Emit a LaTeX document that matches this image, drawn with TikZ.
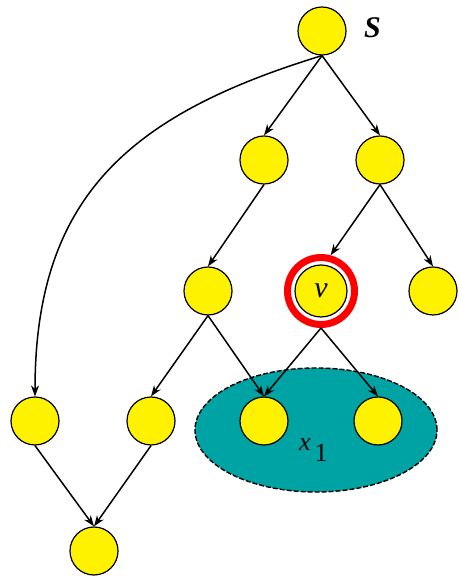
\documentclass[tikz,border=0pt]{standalone}
\usepackage{fontspec}
\setmainfont{Liberation Serif}
\usetikzlibrary{arrows.meta}

\definecolor{setteal}{RGB}{0,163,163}

\begin{document}
\begin{tikzpicture}[
    x=1pt, y=1pt,
    vertex/.style={circle, draw, fill=yellow, line width=1.2pt, minimum size=48pt, inner sep=0pt},
    ring/.style={circle, draw=red, fill=white, line width=7pt, minimum size=67pt, inner sep=0pt},
    region/.style={draw, fill=setteal, line width=1.4pt, dash pattern=on 5pt off 2pt},
    letter/.style={inner sep=0pt, font=\fontsize{30}{30}\selectfont\itshape},
    arrow/.style={-{Stealth[length=11pt, width=8pt]}, line width=1.5pt}
]
    \useasboundingbox (0,0) rectangle (458,577);

    % the set x_1
    \draw[region] (316,147) ellipse [x radius=121pt, y radius=62pt];

    \node[vertex] (s) at (322,546) {};
    \node[letter, font=\fontsize{30}{30}\selectfont\bfseries\itshape, anchor=base west] (slabel) at (364,539) {S};
    \node[vertex] (a) at (264,417) {};
    \node[vertex] (b) at (380,417) {};
    \node[vertex] (c) at (208,286) {};
    \node[ring] (vring) at (321,286) {};
    \node[vertex, minimum size=52pt, font=\fontsize{30}{30}\selectfont\itshape] (v) at (321,286) {v};
    \node[vertex] (d) at (433,286) {};
    \node[vertex] (e) at (35,156) {};
    \node[vertex] (f) at (151,156) {};
    \node[vertex] (g) at (264,156) {};
    \node[vertex] (h) at (378,156) {};
    \node[vertex] (i) at (94,26) {};
    \node[letter, font=\fontsize{26}{26}\selectfont, anchor=base west] (xlabel) at (299,126) {\textit{x}\hspace{4pt}\raisebox{-11pt}{1}};

    \draw[arrow] (s.south) -- (a.north);
    \draw[arrow] (s.south) -- (b.north);
    \draw[arrow] (s.south) to[out=197, in=90, looseness=1.15] (e.north);
    \draw[arrow] (b.south) -- (vring.75);
    \draw[arrow] (b.south) -- (d.north);
    \draw[arrow] (a.south) -- (c.north);
    \draw[arrow] (c.south) -- (f.north);
    \draw[arrow] (c.south) -- (g.north);
    \draw[arrow] (vring.south) -- (g.north);
    \draw[arrow] (vring.south) -- (h.north);
    \draw[arrow] (e.south) -- (i.north);
    \draw[arrow] (f.south) -- (i.north);
\end{tikzpicture}
\end{document}
